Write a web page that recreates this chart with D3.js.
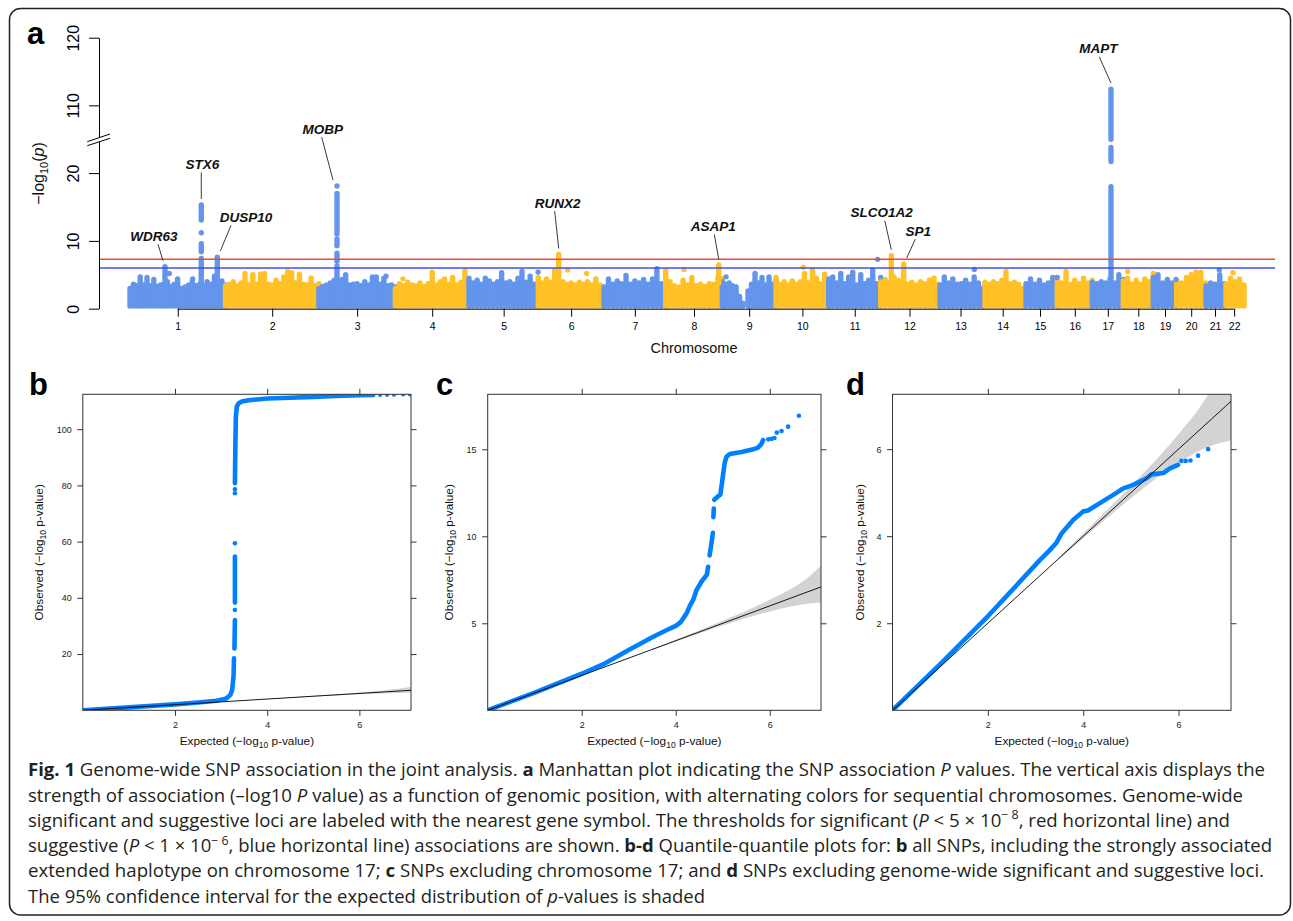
<!DOCTYPE html>
<html>
<head>
<meta charset="utf-8">
<script src="https://cdn.jsdelivr.net/npm/d3@7"></script>
<style>
  body { margin: 0; background: #fff; }
  svg { display: block; font-family: "Liberation Sans", Arial, Helvetica, sans-serif; }
</style>
</head>
<body>
<div id="fig"></div>
<script>
// ---------- data ----------

// panel a: chromosomes and their plotted extent (Mb)
var chromosomes = d3.range(1, 23);
var chromLength = [246.8, 241.3, 197.7, 190.2, 179.1, 169.8, 159.4, 146.3, 138.8, 136.2, 134.4,
                   148.8, 114.7, 103.4, 89.4, 90.4, 80.1, 77.5, 60.5, 74.9, 48.1, 50.9];

// dense background of SNPs: [chromosome, from Mb, to Mb] and the upper envelope (-log10 p)
var skylineSpans = [
  [1, 0, 131.8], [1, 142.1, 246.8], [2, 0, 241.3], [3, 0, 197.7], [4, 0, 190.2], [5, 0, 179.1],
  [6, 0, 169.8], [7, 0, 159.4], [8, 0, 146.3], [9, 0, 53.5], [9, 66.4, 138.8], [10, 0, 136.2],
  [11, 0, 134.4], [12, 0, 148.8], [13, 4.4, 114.7], [14, 6, 103.4], [15, 8.5, 89.4], [16, 0, 90.4],
  [17, 0, 80.1], [18, 0, 77.5], [19, 0, 60.5], [20, 0, 74.9], [21, 1, 48.1], [22, 4.4, 50.9]
];
var skylineHeights = [
  [3.0, 3.6, 3.4, 4.7, 3.5, 4.6, 3.4, 4.3, 3.3, 3.5, 3.6, 4.0, 3.3, 3.6, 4.4, 3.0],
  [3.2, 3.5, 4.2, 3.4, 3.6, 3.4, 4.0, 3.6, 4.8, 3.5, 4.1, 3.5],
  [3.4, 3.6, 4.0, 3.4, 3.8, 5.2, 3.5, 5.0, 3.6, 5.1, 5.2, 3.6, 3.5, 4.2, 3.7, 4.7, 5.5, 5.3, 3.8, 5.1, 3.6, 3.5, 4.5, 3.4, 3.7],
  [3.0, 3.3, 3.5, 3.8, 4.2, 3.6, 4.3, 5.0, 3.5, 3.6, 3.7, 3.4, 4.0, 3.5, 4.7, 4.7, 3.6, 4.5, 3.4, 3.5, 3.2],
  [3.0, 3.7, 3.4, 3.9, 3.5, 3.4, 3.8, 3.3, 3.7, 5.4, 3.5, 4.0, 4.4, 3.6, 4.6, 3.5, 3.9, 5.6, 4.0],
  [4.5, 3.8, 4.2, 3.6, 4.5, 4.1, 3.6, 4.0, 5.3, 3.8, 4.0, 3.6, 4.5, 5.5, 3.9, 4.8, 3.6, 3.3],
  [4.6, 3.8, 4.4, 3.9, 5.7, 3.7, 4.0, 3.6, 3.8, 3.5, 3.9, 3.6, 4.0, 3.5, 4.4, 3.5, 3.2],
  [3.2, 4.4, 3.6, 4.1, 3.7, 4.9, 3.6, 4.1, 3.8, 4.3, 3.6, 4.4, 5.9, 3.7, 3.1],
  [5.6, 4.0, 3.4, 3.2, 4.2, 3.5, 4.6, 3.4, 3.6, 3.3, 3.7, 3.6, 4.6, 4.4],
  [4.0, 3.6, 3.8, 3.4, 3.2, 1.8, 0.8],
  [2.6, 3.6, 5.2, 3.8, 4.6, 3.5, 4.7, 3.6, 4.2],
  [4.6, 3.6, 4.0, 3.5, 4.1, 3.6, 4.0, 5.2, 3.8, 5.7, 4.5, 3.7, 5.1, 4.0],
  [4.4, 4.7, 3.8, 5.2, 3.7, 4.7, 5.4, 3.5, 5.0, 3.7, 4.2, 5.7, 3.7, 4.6],
  [4.0, 4.3, 3.8, 4.7, 4.2, 3.8, 3.6, 3.9, 3.5, 4.0, 3.7, 4.2, 4.5, 3.6],
  [3.5, 4.7, 3.8, 4.4, 3.6, 3.7, 4.2, 3.6, 4.7, 3.8, 3.0],
  [3.9, 3.6, 4.0, 3.7, 4.2, 5.5, 3.7, 3.9, 3.6, 3.0],
  [3.7, 4.4, 3.6, 4.2, 3.5, 3.8, 4.6, 3.9],
  [4.6, 3.8, 5.5, 3.6, 4.2, 3.7, 4.5, 3.8, 4.2],
  [3.9, 3.7, 4.0, 3.8, 4.4, 3.8, 5.0, 4.3],
  [4.1, 4.5, 3.6, 4.2, 3.6, 4.4, 4.0, 5.2],
  [4.6, 5.0, 3.8, 4.3, 3.8, 3.5],
  [4.1, 3.8, 4.6, 5.0, 5.4, 5.4, 3.8],
  [3.4, 3.8, 3.6, 5.0, 3.7],
  [3.6, 4.5, 4.0, 4.4, 3.5]
];

// labelled loci: runs of SNPs stacked at one position, [low, high] in -log10 p
var lociGenes = ["WDR63", "STX6", "DUSP10", "MOBP", "RUNX2", "ASAP1", "SLCO1A2", "SP1", "MAPT"];
var lociChr = [1, 1, 1, 3, 6, 8, 12, 12, 17];
var lociPos = [90.4, 184.2, 225.6, 46.8, 52.7, 137.0, 27.4, 59.4, 48.3];
var lociRuns = [
  [[3.8, 5.0], [5.4, 6.2]],
  [[3.8, 7.4], [8.4, 9.6], [11.2, 11.2], [13.1, 15.3]],
  [[3.8, 7.6]],
  [[3.8, 6.3], [7.0, 8.2], [9.3, 10.3], [11.0, 17.0], [18.1, 18.1]],
  [[3.8, 5.8], [6.2, 8.0]],
  [[3.8, 6.45]],
  [[3.8, 6.3], [6.6, 7.8]],
  [[3.8, 6.6]],
  [[3.8, 18.0], [21.7, 23.8], [104.6, 112.4]]
];

// isolated SNPs standing out of the background
var snpChr = [1, 1, 3, 4, 5, 6, 6, 8, 9, 10, 11, 13, 15, 18, 19, 21, 22];
var snpPos = [101.6, 162, 173.4, 19.6, 178.5, 76, 125, 47.3, 9.6, 70.5, 126.6, 93, 88.5, 11.4, 58.7, 35.1, 22.5];
var snpLogP = [5.2, 4.4, 4.8, 4.4, 5.4, 5.7, 5.2, 5.8, 4.7, 6.1, 7.28, 5.8, 4.6, 5.5, 4.3, 5.7, 5.3];

var thresholdValues = [7.30, 6.0];   // 5e-8 (red), 1e-6 (blue)
var yTicksLow = [0, 10, 20];
var yTicksHigh = [110, 120];

// panels b-d: quantile-quantile curves (expected, observed)
var qqExpTicks = [2, 4, 6];
var qqObsTicksB = [20, 40, 60, 80, 100];
var qqObsTicksC = [5, 10, 15];
var qqObsTicksD = [2, 4, 6];

var qqBLine = [[0, 0], [1, 1.05], [2, 2.1], [2.5, 2.75], [2.9, 3.4], [3.05, 3.9], [3.12, 4.3], [3.2, 5.5],
               [3.24, 7.2], [3.27, 12], [3.28, 18.5]];
var qqBRun1 = [[3.29, 22], [3.3, 32.1]];
var qqBRun2 = [[3.3, 38.3], [3.3, 54.7]];
var qqBRun3 = [[3.3, 80.8], [3.31, 95], [3.32, 104], [3.34, 108], [3.38, 109.2], [3.45, 109.8], [3.6, 110.3],
               [4, 110.9], [4.5, 111.2], [5, 111.5], [5.5, 111.8], [6, 112.1], [6.3, 112.2]];
var qqBDots = [[3.3, 35.7], [3.3, 59.4], [3.3, 77.2], [3.3, 78.6], [6.45, 112.3], [6.6, 112.3],
               [6.75, 112.35], [6.95, 112.4], [7.1, 112.4]];

var qqCLine = [[0, 0], [1, 1.02], [2, 2.1], [2.5, 2.7], [3, 3.47], [3.5, 4.2], [3.8, 4.6], [4.0, 4.85],
               [4.1, 5.05], [4.23, 5.57], [4.3, 6.0], [4.37, 6.34], [4.44, 6.9], [4.55, 7.4], [4.66, 7.78], [4.69, 8.25]];
var qqCRun2 = [[4.72, 8.9], [4.76, 9.6], [4.79, 10.2]];
var qqCRun3 = [[4.8, 11.1], [4.81, 11.6]];
var qqCRun4 = [[4.82, 12.1], [4.9, 12.3], [4.95, 12.4], [4.98, 13.0], [5.01, 13.6], [5.04, 14.2], [5.08, 14.57],
               [5.15, 14.73], [5.4, 14.85], [5.65, 15.0], [5.75, 15.1], [5.82, 15.3], [5.86, 15.53]];
var qqCDots = [[5.97, 15.57], [6.04, 15.6], [6.1, 15.65], [6.15, 15.96], [6.25, 16.05], [6.39, 16.3], [6.62, 16.93]];

var qqDLine = [[0, 0], [1, 1.06], [2, 2.16], [2.5, 2.75], [3.09, 3.45], [3.3, 3.68], [3.44, 3.85], [3.55, 4.07],
               [3.79, 4.37], [4.0, 4.57], [4.1, 4.59], [4.35, 4.76], [4.63, 4.95], [4.84, 5.1], [5.05, 5.18],
               [5.33, 5.33], [5.43, 5.42], [5.68, 5.45], [5.82, 5.56], [5.99, 5.64]];
var qqDDots = [[6.06, 5.73], [6.15, 5.73], [6.25, 5.74], [6.41, 5.85], [6.62, 6.0]];

// 95% band of the expected distribution
var bandExp = [3.5, 4, 4.5, 5, 5.5, 6, 6.5, 6.8, 7.12];
var bandLow = [3.47, 3.95, 4.42, 4.87, 5.3, 5.68, 6.0, 6.12, 6.2];
var bandHigh = [3.53, 4.06, 4.6, 5.15, 5.72, 6.35, 7.05, 7.6, 8.4];

// caption
var captionLines = [
  [["b", "Fig. 1"], ["n", " Genome-wide SNP association in the joint analysis. "], ["b", "a"],
   ["n", " Manhattan plot indicating the SNP association "], ["i", "P"], ["n", " values. The vertical axis displays the"]],
  [["n", "strength of association (–log10 "], ["i", "P"],
   ["n", " value) as a function of genomic position, with alternating colors for sequential chromosomes. Genome-wide"]],
  [["n", "significant and suggestive loci are labeled with the nearest gene symbol. The thresholds for significant ("],
   ["i", "P"], ["n", " < 5 × 10"], ["sup", "− 8"], ["n", ", red horizontal line) and"]],
  [["n", "suggestive ("], ["i", "P"], ["n", " < 1 × 10"], ["sup", "− 6"],
   ["n", ", blue horizontal line) associations are shown. "], ["b", "b-d"], ["n", " Quantile-quantile plots for: "],
   ["b", "b"], ["n", " all SNPs, including the strongly associated"]],
  [["n", "extended haplotype on chromosome 17; "], ["b", "c"], ["n", " SNPs excluding chromosome 17; and "], ["b", "d"],
   ["n", " SNPs excluding genome-wide significant and suggestive loci."]],
  [["n", "The 95% confidence interval for the expected distribution of "], ["i", "p"], ["n", "-values is shaded"]]
];

// ---------- layout ----------
var W = 1293, H = 921;
var blue = "#6495ed", yellow = "#ffc125", qqBlue = "#0080ff";

var svg = d3.select("#fig").append("svg").attr("width", W).attr("height", H);

svg.append("rect")
  .attr("x", 9.5).attr("y", 8.5).attr("width", 1281).attr("height", 906.5).attr("rx", 11)
  .attr("fill", "none").attr("stroke", "#222").attr("stroke-width", 1.5);

var panelLetters = ["a", "b", "c", "d"];
var letterPos = [[27, 44], [29, 395], [436, 395], [846, 395]];
svg.selectAll("text.letter").data(panelLetters).enter().append("text")
  .attr("class", "letter")
  .attr("x", function(d, i) { return letterPos[i][0]; })
  .attr("y", function(d, i) { return letterPos[i][1]; })
  .attr("font-size", 31).attr("font-weight", "bold")
  .text(function(d) { return d; });

// ---------- panel a: Manhattan plot ----------
var chromStart = [];
chromLength.reduce(function(acc, L, i) { chromStart[i] = acc; return acc + L; }, 0);
var total = d3.sum(chromLength);

var xM = d3.scaleLinear().domain([0, total]).range([130, 1244]);
var yLow = d3.scaleLinear().domain([0, 25]).range([308.7, 139.2]);
var yHigh = d3.scaleLinear().domain([105, 120]).range([139.2, 37.7]);
function yM(v) { return v <= 25 ? yLow(v) : yHigh(Math.max(v, 105)); }
function gx(chr, pos) { return xM(chromStart[chr - 1] + pos); }
function chrColor(chr) { return chr % 2 === 1 ? blue : yellow; }

var man = svg.append("g");
var dotW = 5.4;

// background: each envelope sample is a column of overlapping dots from 0 up to its height
skylineSpans.forEach(function(s, k) {
  var h = skylineHeights[k], n = h.length;
  man.append("g").selectAll("line").data(h).enter().append("line")
    .attr("x1", function(v, i) { return gx(s[0], s[1] + (s[2] - s[1]) * i / (n - 1)); })
    .attr("x2", function(v, i) { return gx(s[0], s[1] + (s[2] - s[1]) * i / (n - 1)); })
    .attr("y1", yM(0) - dotW / 2)
    .attr("y2", function(v) { return yM(v); })
    .attr("stroke", chrColor(s[0]))
    .attr("stroke-width", dotW)
    .attr("stroke-linecap", "round");
});

// stacked loci
lociGenes.forEach(function(gene, i) {
  var cx = gx(lociChr[i], lociPos[i]);
  lociRuns[i].forEach(function(r) {
    if (r[0] === r[1]) {
      man.append("circle").attr("cx", cx).attr("cy", yM(r[0])).attr("r", dotW / 2).attr("fill", chrColor(lociChr[i]));
    } else {
      man.append("line")
        .attr("x1", cx).attr("x2", cx).attr("y1", yM(r[0])).attr("y2", yM(r[1]))
        .attr("stroke", chrColor(lociChr[i])).attr("stroke-width", dotW).attr("stroke-linecap", "round");
    }
  });
});

man.selectAll("circle.snp").data(snpLogP).enter().append("circle")
  .attr("class", "snp")
  .attr("cx", function(d, i) { return gx(snpChr[i], snpPos[i]); })
  .attr("cy", function(d) { return yM(d); })
  .attr("r", dotW / 2)
  .attr("fill", function(d, i) { return chrColor(snpChr[i]); });

// threshold lines
var thresholdColors = ["#f04545", "#4a4af0"];
man.selectAll("line.thr").data(thresholdValues).enter().append("line")
  .attr("x1", 99).attr("x2", 1275)
  .attr("y1", function(d) { return yM(d); }).attr("y2", function(d) { return yM(d); })
  .attr("stroke", function(d, i) { return thresholdColors[i]; })
  .attr("stroke-width", 1.5);

// gene labels (offsets are layout only)
var labelDx = [-11, 1, 28.7, -14.3, -1, -5.4, -9.6, 14.6, -12.7];
var labelDy = [-31, -41, -40.3, -57.3, -51.8, -39, -43.7, -33.3, -40.8];
var leaderSx = [4, -1, -15, -1, -3, 1, 3, -3, 1];
var leaderEx = [-2, 0, 3, -4, 0, 0, 0, 3, 0];

lociGenes.forEach(function(gene, i) {
  var cx = gx(lociChr[i], lociPos[i]);
  var runs = lociRuns[i];
  var top = yM(runs[runs.length - 1][1]);
  var lx = cx + labelDx[i], ly = top + labelDy[i];
  man.append("text")
    .attr("x", lx).attr("y", ly + 5)
    .attr("text-anchor", "middle")
    .attr("font-size", 13.5).attr("font-weight", "bold").attr("font-style", "italic")
    .attr("fill", "#111")
    .text(gene);
  man.append("line")
    .attr("x1", lx + leaderSx[i]).attr("y1", ly + 8.5)
    .attr("x2", cx + leaderEx[i]).attr("y2", top - 6)
    .attr("stroke", "#222").attr("stroke-width", 0.9);
});

// y axis with a break
function styleYAxis(a) {
  a.select(".domain").attr("stroke", "#000");
  a.selectAll(".tick line").attr("stroke", "#000");
  a.selectAll(".tick text")
    .attr("x", 0).attr("dy", 0)
    .attr("transform", "translate(-20.5,0) rotate(-90)")
    .attr("text-anchor", "middle")
    .attr("font-size", 16)
    .attr("font-family", "'Liberation Sans', Arial, sans-serif")
    .attr("fill", "#000");
}
svg.append("g").attr("transform", "translate(99,0)")
  .call(d3.axisLeft(yLow).tickValues(yTicksLow).tickSize(10).tickSizeOuter(0))
  .call(styleYAxis);
svg.append("g").attr("transform", "translate(99,0)")
  .call(d3.axisLeft(yHigh).tickValues(yTicksHigh).tickSize(10).tickSizeOuter(0))
  .call(styleYAxis);

var by = yLow(25);
svg.append("path")
  .attr("d", "M87.3," + (by + 2.5) + "L110," + (by - 5.2) + "L110," + (by - 0.9) + "L87.3," + (by + 6.5) + "Z")
  .attr("fill", "#fff");
svg.append("line").attr("x1", 87.3).attr("y1", by + 2.5).attr("x2", 110).attr("y2", by - 5.2)
  .attr("stroke", "#000").attr("stroke-width", 1);
svg.append("line").attr("x1", 87.3).attr("y1", by + 6.5).attr("x2", 110).attr("y2", by - 0.9)
  .attr("stroke", "#000").attr("stroke-width", 1);

var ylab = svg.append("text")
  .attr("transform", "translate(44,173.5) rotate(-90)")
  .attr("text-anchor", "middle").attr("font-size", 16).attr("fill", "#111");
ylab.append("tspan").text("−log");
ylab.append("tspan").attr("font-size", 11).attr("dy", 4).text("10");
ylab.append("tspan").attr("dy", -4).text("(");
ylab.append("tspan").attr("font-style", "italic").text("p");
ylab.append("tspan").text(")");

// chromosome axis
var chromMid = chromLength.map(function(L, i) { return chromStart[i] + L / 2; });
var xAx = svg.append("g").attr("transform", "translate(0," + yM(0) + ")")
  .call(d3.axisBottom(xM).tickValues(chromMid)
    .tickFormat(function(d, i) { return chromosomes[i]; })
    .tickSize(8).tickPadding(6).tickSizeOuter(0));
xAx.select(".domain").attr("d", "M" + xM(chromMid[0]) + ",0.5H" + xM(chromMid[21])).attr("stroke", "#000");
xAx.selectAll(".tick line").attr("stroke", "#000");
xAx.selectAll(".tick text").attr("font-size", 10.5).attr("fill", "#000")
  .attr("font-family", "'Liberation Sans', Arial, sans-serif");

svg.append("text").attr("x", 694).attr("y", 353)
  .attr("text-anchor", "middle").attr("font-size", 14.5).attr("fill", "#111")
  .text("Chromosome");

// ---------- panels b-d: QQ plots ----------
var qqTop = 394.3, qqBottom = 710.3;
var qqPanels = [
  { key: "b", left: 82.8, right: 411, xmax: 7.12, ymax: 112.4, yticks: qqObsTicksB,
    runs: [qqBLine, qqBRun1, qqBRun2, qqBRun3], dots: qqBDots, titleX: 39.3 },
  { key: "c", left: 487.7, right: 821, xmax: 7.09, ymax: 18.16, yticks: qqObsTicksC,
    runs: [qqCLine, qqCRun2, qqCRun3, qqCRun4], dots: qqCDots, titleX: 449.3 },
  { key: "d", left: 892.5, right: 1231, xmax: 7.1, ymax: 7.26, yticks: qqObsTicksD,
    runs: [qqDLine], dots: qqDDots, titleX: 860 }
];

function axisStyle(a, hideLabels) {
  a.select(".domain").remove();
  a.selectAll(".tick line").attr("stroke", "#333");
  a.selectAll(".tick text").attr("font-size", 9).attr("fill", "#222")
    .attr("font-family", "'Liberation Sans', Arial, sans-serif");
  if (hideLabels) a.selectAll(".tick text").remove();
}

function titleText(sel, word) {
  sel.append("tspan").text(word + " (−log");
  sel.append("tspan").attr("font-size", 8.5).attr("dy", 3).text("10");
  sel.append("tspan").attr("dy", -3).text(" p-value)");
}

qqPanels.forEach(function(p) {
  var x = d3.scaleLinear().domain([0, p.xmax]).range([p.left, p.right]);
  var y = d3.scaleLinear().domain([0, p.ymax]).range([qqBottom, qqTop]);
  var g = svg.append("g");

  svg.append("clipPath").attr("id", "clip-" + p.key).append("rect")
    .attr("x", p.left).attr("y", qqTop).attr("width", p.right - p.left).attr("height", qqBottom - qqTop);
  var inner = g.append("g").attr("clip-path", "url(#clip-" + p.key + ")");

  var band = d3.area()
    .x(function(d) { return x(d[0]); })
    .y0(function(d) { return y(d[1]); })
    .y1(function(d) { return y(d[2]); })
    .curve(d3.curveMonotoneX);
  inner.append("path").attr("d", band(d3.zip(bandExp, bandLow, bandHigh))).attr("fill", "#d3d3d3");

  var line = d3.line().x(function(d) { return x(d[0]); }).y(function(d) { return y(d[1]); });
  p.runs.forEach(function(r) {
    inner.append("path").attr("d", line(r))
      .attr("fill", "none").attr("stroke", qqBlue).attr("stroke-width", 4.6)
      .attr("stroke-linecap", "round").attr("stroke-linejoin", "round");
  });
  inner.selectAll("circle").data(p.dots).enter().append("circle")
    .attr("cx", function(d) { return x(d[0]); })
    .attr("cy", function(d) { return y(d[1]); })
    .attr("r", 2.3).attr("fill", qqBlue);

  inner.append("line")
    .attr("x1", x(0)).attr("y1", y(0)).attr("x2", x(p.xmax)).attr("y2", y(p.xmax))
    .attr("stroke", "#000").attr("stroke-width", 0.9);

  g.append("rect").attr("x", p.left).attr("y", qqTop)
    .attr("width", p.right - p.left).attr("height", qqBottom - qqTop)
    .attr("fill", "none").attr("stroke", "#333").attr("stroke-width", 1);

  g.append("g").attr("transform", "translate(0," + qqBottom + ")")
    .call(d3.axisBottom(x).tickValues(qqExpTicks).tickSize(5.5).tickPadding(5.5))
    .call(axisStyle, false);
  g.append("g").attr("transform", "translate(0," + qqTop + ")")
    .call(d3.axisTop(x).tickValues(qqExpTicks).tickSize(5.5))
    .call(axisStyle, true);
  g.append("g").attr("transform", "translate(" + p.left + ",0)")
    .call(d3.axisLeft(y).tickValues(p.yticks).tickSize(5.5).tickPadding(5.6))
    .call(axisStyle, false);
  g.append("g").attr("transform", "translate(" + p.right + ",0)")
    .call(d3.axisRight(y).tickValues(p.yticks).tickSize(5.5))
    .call(axisStyle, true);

  var xt = g.append("text").attr("x", (p.left + p.right) / 2).attr("y", 744.5)
    .attr("text-anchor", "middle").attr("font-size", 11.8).attr("fill", "#111");
  titleText(xt, "Expected");
  var yt = g.append("text")
    .attr("transform", "translate(" + (p.titleX + 4) + "," + ((qqTop + qqBottom) / 2) + ") rotate(-90)")
    .attr("text-anchor", "middle").attr("font-size", 11.8).attr("fill", "#111");
  titleText(yt, "Observed");
});

// ---------- caption ----------
var captionBase = [776, 801.5, 826.8, 852, 877.3, 902.5];
var captionWidth = [1237, 1215, 1202, 1244, 1236, 677];
var cap = svg.append("g")
  .attr("font-family", "'Open Sans', 'Noto Sans', sans-serif")
  .attr("font-size", 18).attr("fill", "#231f20");

captionLines.forEach(function(parts, i) {
  var t = cap.append("text")
    .attr("x", 28).attr("y", captionBase[i])
    .attr("textLength", captionWidth[i]).attr("lengthAdjust", "spacingAndGlyphs")
    .style("white-space", "pre");
  var raised = false;
  parts.forEach(function(p) {
    var s = t.append("tspan").text(p[1]);
    if (p[0] === "b") s.attr("font-weight", "bold");
    if (p[0] === "i") s.attr("font-style", "italic");
    if (p[0] === "sup") { s.attr("font-size", 12).attr("dy", -7.5); raised = true; }
    else if (raised) { s.attr("dy", 7.5); raised = false; }
  });
});
</script>
</body>
</html>
